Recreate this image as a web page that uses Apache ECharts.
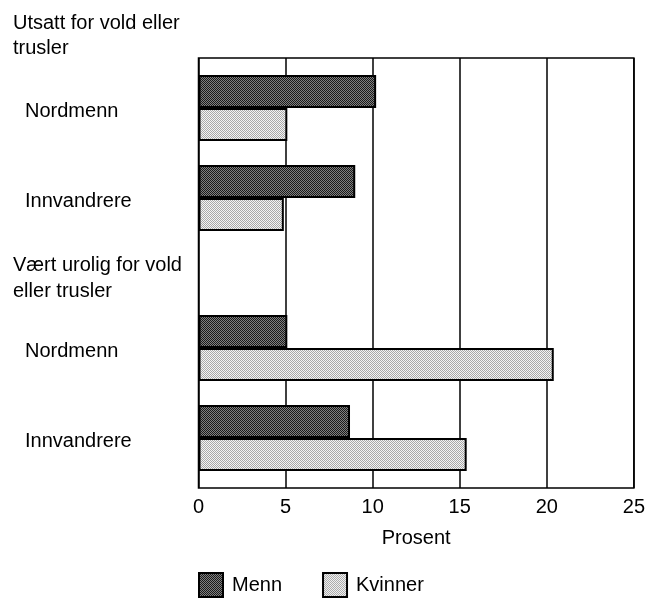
<!DOCTYPE html>
<html>
<head>
<meta charset="utf-8">
<script src="https://cdn.jsdelivr.net/npm/echarts@6/dist/echarts.min.js"></script>
<style>
  html, body { margin: 0; padding: 0; background: #fff; }
  #chart { width: 648px; height: 598px; }
</style>
</head>
<body>
<div id="chart"></div>
<script>
// Section headings and row labels
const sectionTitles = ['Utsatt for vold eller\ntrusler', 'Vært urolig for vold\neller trusler'];
const groups = ['Nordmenn', 'Innvandrere', 'Nordmenn', 'Innvandrere'];
const seriesNames = ['Menn', 'Kvinner'];
// Per cent, one value per row
const menn = [10.2, 9.0, 5.1, 8.7];
const kvinner = [5.1, 4.9, 20.4, 15.4];
// Value axis ticks
const xTicks = [0, 5, 10, 15, 20, 25];
const axisTitle = 'Prosent';

// Row layout on a fine category scale: rows sit on chosen slots, the rest stay empty
const SLOT_COUNT = 44;
const rowSlots = [5, 14, 29, 38];
const headingSlot = 22;

const FONT = "'Liberation Sans', Arial, sans-serif";
const FS = 20;

const categories = new Array(SLOT_COUNT).fill('');
rowSlots.forEach((s, i) => { categories[s] = groups[i]; });
categories[headingSlot] = sectionTitles[1];

function rowData(values) {
  const out = new Array(SLOT_COUNT).fill(null);
  rowSlots.forEach((s, i) => { out[s] = values[i]; });
  return out;
}

// Small stipple tiles for the bar fills
function stipple(ink, paper) {
  const c = document.createElement('canvas');
  c.width = 2; c.height = 2;
  const g = c.getContext('2d');
  g.fillStyle = paper; g.fillRect(0, 0, 2, 2);
  g.fillStyle = ink; g.fillRect(0, 0, 1, 1); g.fillRect(1, 1, 1, 1);
  return { image: c, repeat: 'repeat' };
}
const darkFill = stipple('#1a1a1a', '#808080');
const lightFill = stipple('#a8a8a8', '#f4f4f4');

const chart = echarts.init(document.getElementById('chart'), null, { renderer: 'canvas' });

chart.setOption({
  animation: false,
  backgroundColor: '#fff',
  textStyle: { fontFamily: FONT, color: '#000' },
  title: {
    text: sectionTitles[0],
    left: 13,
    top: 11,
    padding: 0,
    textStyle: { fontFamily: FONT, fontSize: FS, fontWeight: 'normal', color: '#000', lineHeight: 25 }
  },
  grid: {
    left: 198.5, right: 9, top: 58, bottom: 110,
    show: true, borderColor: '#000', borderWidth: 1.5, backgroundColor: 'transparent'
  },
  legend: {
    data: seriesNames,
    left: 198, top: 572,
    padding: 0,
    icon: 'rect',
    itemWidth: 24, itemHeight: 24,
    itemGap: 40,
    textStyle: { fontFamily: FONT, fontSize: FS, color: '#000', padding: [0, 0, 0, 4] }
  },
  xAxis: {
    type: 'value',
    min: xTicks[0], max: xTicks[xTicks.length - 1],
    interval: xTicks[1] - xTicks[0],
    name: axisTitle,
    nameLocation: 'middle',
    nameGap: 40,
    nameTextStyle: { fontFamily: FONT, fontSize: FS, color: '#000' },
    axisLine: { show: false },
    axisTick: { show: false },
    axisLabel: { fontFamily: FONT, fontSize: FS, color: '#000', margin: 9 },
    splitLine: { show: true, lineStyle: { color: '#000', width: 1.5 } }
  },
  yAxis: {
    type: 'category',
    data: categories,
    inverse: true,
    boundaryGap: false,
    axisLine: { show: false },
    axisTick: { show: false },
    splitLine: { show: false },
    axisLabel: {
      interval: 0,
      align: 'left',
      margin: 185.5,
      formatter: (v, i) => {
        if (!v) return '';
        return i === headingSlot ? '{h|' + v + '}' : '{g|' + v + '}';
      },
      rich: {
        h: { fontFamily: FONT, fontSize: FS, color: '#000', lineHeight: 26 },
        g: { fontFamily: FONT, fontSize: FS, color: '#000', padding: [6, 0, 0, 12] }
      }
    }
  },
  series: [
    {
      name: seriesNames[0],
      type: 'bar',
      data: rowData(menn),
      barWidth: 33,
      barGap: '0%',
      itemStyle: { color: darkFill, borderColor: '#000', borderWidth: 2 }
    },
    {
      name: seriesNames[1],
      type: 'bar',
      data: rowData(kvinner),
      barWidth: 33,
      barGap: '0%',
      itemStyle: { color: lightFill, borderColor: '#000', borderWidth: 2 }
    }
  ]
});
</script>
</body>
</html>
